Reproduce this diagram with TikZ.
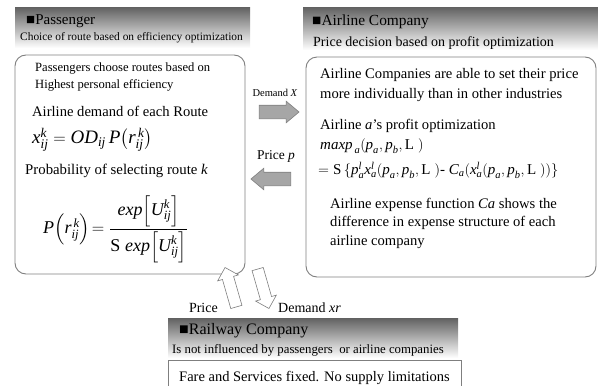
\documentclass[tikz,border=0pt]{standalone}
\usepackage{amsmath}
\usepackage{fontspec}
\setmainfont{Liberation Serif}
\usetikzlibrary{shapes.arrows}
\newcommand{\mi}[1]{\text{\itshape #1}}
\newcommand{\fs}[1]{\fontsize{#1}{#1}\selectfont}
\definecolor{bordergray}{HTML}{7F7F7F}
\definecolor{arrowgray}{HTML}{A6A6A6}
\tikzset{
  hdr/.style={top color=black!62, bottom color=white, draw=none},
  panel/.style={draw=bordergray, line width=0.9pt, rounded corners=11pt},
  plainbox/.style={draw=bordergray, line width=0.9pt},
  txt/.style={anchor=west, inner sep=0pt, align=left},
  midtxt/.style={inner sep=0pt},
  fatarrow/.style={single arrow, draw=bordergray, fill=arrowgray, line width=0.6pt,
    minimum height=40pt, inner sep=6.5pt, single arrow head extend=4pt,
    single arrow tip angle=80},
  hollowarrow/.style={single arrow, draw=bordergray, fill=white, line width=0.6pt,
    minimum height=41pt, inner sep=5.5pt, single arrow head extend=5pt,
    single arrow tip angle=90}
}
\begin{document}
\begin{tikzpicture}[x=1pt,y=-1pt]
\useasboundingbox (0,0) rectangle (598,386);
% ---------- Passenger ----------
\shade[hdr] (15,7) rectangle (250,48);
\node[txt] (phead) at (26,21) {\fs{15}\symbol{"25A0}Passenger};
\node[txt] (psub) at (20,38) {\fs{11.4}Choice of route based on efficiency optimization};
\draw[panel] (15,55) rectangle (245,274);
\node[txt] (p1) at (35,68) {\fs{12.6}Passengers\ choose routes based\ on};
\node[txt] (p2) at (35,85) {\fs{12.6}Highest personal efficiency};
\node[txt] (p3) at (32,111) {\fs{14.6}Airline demand of each Route};
\node[txt] (p4) at (32,140) {\fs{19}$\mi{x}^{\mi{k}}_{\mi{ij}} = \mi{OD}_{\mi{ij}}\,\mi{P}\bigl(\mi{r}^{\,\mi{k}}_{\mi{ij}}\bigr)$};
\node[txt] (p5) at (25,171) {\fs{14.8}Probability of selecting route \textit{k}};
\node[txt] (p6) at (43,229) {\fs{18}$\mi{P}\Bigl(\mi{r}^{\,\mi{k}}_{\mi{ij}}\Bigr)\!= \dfrac{\mi{exp}\Bigl[\mi{U}^{\mi{k}}_{\mi{ij}}\Bigr]}{\text{S}\;\mi{exp}\Bigl[\mi{U}^{\mi{k}}_{\mi{ij}}\Bigr]}$};
% ---------- Airline ----------
\shade[hdr] (303,7) rectangle (598,50);
\node[txt] (ahead) at (312,22) {\fs{15.4}\symbol{"25A0}Airline Company};
\node[txt] (asub) at (313,43) {\fs{14}Price decision based on profit optimization};
\draw[panel] (306,57) rectangle (596,277);
\node[txt] (a1) at (320,75) {\fs{14.6}Airline Companies are able to set their price};
\node[txt] (a2) at (320,95) {\fs{14.6}more individually\ than in other industries};
\node[txt] (a3) at (320,126) {\fs{14.6}Airline \textit{a}'s profit optimization};
\node[txt] (a4) at (320,146) {\fs{15}$\mi{maxp}_{\,\mi{a}}(\mi{p}_{\mi{a}}, \mi{p}_{\mi{b}}, \text{L}\;)$};
\node[txt] (a5) at (318,170) {\fs{15}$=\text{S}\,\{\mi{p}^{\mi{l}}_{\mi{a}}\mi{x}^{\mi{l}}_{\mi{a}}(\mi{p}_{\mi{a}}, \mi{p}_{\mi{b}}, \text{L}\;)\text{- } \mi{C}_{\mi{a}}(\mi{x}^{\mi{l}}_{\mi{a}}(\mi{p}_{\mi{a}}, \mi{p}_{\mi{b}}, \text{L}\;))\}$};
\node[txt] (a6) at (330,205) {\fs{14.6}Airline expense function \textit{Ca} shows the};
\node[txt] (a7) at (330,223) {\fs{14.6}difference in expense structure of each};
\node[txt] (a8) at (330,242) {\fs{14.6}airline company};
% ---------- Middle arrows ----------
\node[midtxt] (demx) at (275,93) {\fs{10.5}Demand \textit{X}};
\node[fatarrow] (rarr) at (275,112) {};
\node[midtxt] (pricep) at (276,156) {\fs{13.5}Price \textit{p}};
\node[fatarrow, shape border rotate=180] (larr) at (275,179) {};
% ---------- Railway ----------
\node[hollowarrow, rotate=106] (uarr) at (231.5,290) {};
\node[hollowarrow, rotate=-74] (darr) at (262.5,286) {};
\node[midtxt, anchor=east] (rprice) at (218,308) {\fs{14}Price};
\node[txt] (rdem) at (278,308) {\fs{14}Demand \textit{xr}};
\shade[hdr] (168,318) rectangle (458,358);
\node[txt] (rhead) at (179,331) {\fs{16}\symbol{"25A0}Railway Company};
\node[txt] (rsub) at (172,350) {\fs{12.8}Is not influenced by passengers\ \ or airline companies};
\draw[plainbox] (168,360) rectangle (461,395);
\node[txt] (rfix) at (179,378) {\fs{14.5}Fare and Services\ fixed. No supply limitations};
\end{tikzpicture}
\end{document}
